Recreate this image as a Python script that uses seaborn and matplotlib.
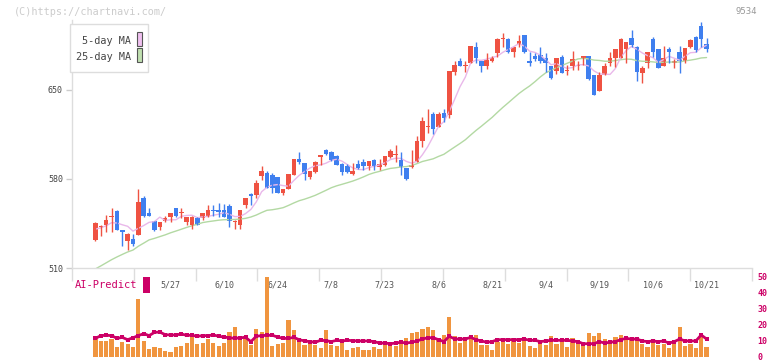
import numpy as np
import pandas as pd
import matplotlib
matplotlib.use("Agg")
import matplotlib.pyplot as plt
from matplotlib.patches import Rectangle
import seaborn as sns

# --- data ---
date_labels = ["5/27", "6/10", "6/24", "7/8", "7/23", "8/6", "8/21", "9/4", "9/19", "10/6", "10/21"]
date_idx = [14, 24, 34, 44, 54, 64, 74, 84, 94, 104, 114]

open_ = [532, 542, 544, 550, 555, 540, 531, 533, 536, 565, 553.5, 547, 542, 547, 550, 557.5, 553, 546.5, 544, 549.5,
         549, 551, 555.5, 555.5, 555.5, 559, 546, 544, 559.5, 568, 567.5, 582.5, 584.5, 583, 581.5, 569, 572, 583.5, 595.5, 592.5,
         581.5, 585.5, 597.5, 603, 601.5, 598, 592, 590, 584, 592, 593, 590, 595, 589.5, 591, 597.5, 599, 595, 588.5, 589.5,
         593.5, 609.5, 621, 631, 621, 632, 630, 664.5, 672.5, 668.5, 671.5, 683.5, 672.5, 669, 672.5, 679, 690, 690, 679.5, 686,
         693, 673, 677, 677.5, 675.5, 669, 665, 676, 665, 668.5, 668.5, 675, 676.5, 662, 649.5, 662, 671, 675.5, 675.5, 682,
         690.5, 684, 663.5, 671.5, 690, 682, 669, 682, 671.5, 680, 672.5, 683.5, 691.5, 700, 686.5]
high = [546, 543.5, 552, 557, 555.5, 540, 537.5, 537, 572, 567, 557, 547, 546.5, 551, 553.5, 557.5, 557, 550, 551, 550,
        553.5, 559.5, 559.5, 561, 560, 560, 548, 555.5, 565, 569, 579, 590, 586.5, 584.5, 581.5, 572.5, 584, 596, 601, 592.5,
        586.5, 594.5, 599, 603.5, 602, 598.5, 592.5, 592, 592.5, 595, 595.5, 594, 595.5, 595.5, 598, 603.5, 606.5, 601.5, 588.5, 602.5,
        614, 629, 635, 632.5, 632.5, 635, 665, 672.5, 675.5, 673, 684.5, 688, 672.5, 679, 676.5, 690.5, 694.5, 690.5, 684, 693,
        693, 680, 679, 684, 679, 669, 675.5, 677.5, 669.5, 680.5, 673, 676.5, 676.5, 662, 664.5, 671, 679.5, 682, 690.5, 688,
        697, 684.5, 668.5, 679.5, 692, 682.5, 684.5, 684, 674, 684.5, 683, 690, 692.5, 703.5, 690.5]
low = [531, 535, 538.5, 538.5, 539.5, 527, 524, 527, 536, 550, 550.5, 539, 540, 546, 546.5, 550, 549.5, 544, 540.5, 543.5,
       548, 550, 551, 550, 550, 542.5, 540.5, 541, 557, 559.5, 565, 579, 573, 569, 569, 567.5, 572, 583, 592, 579,
       580, 585, 591, 599, 594, 591, 583, 585, 583, 587.5, 587, 587, 587, 587, 590, 596.5, 593.5, 583, 579.5, 588.5,
       593.5, 605.5, 616.5, 615.5, 621, 625, 628, 662, 669, 664.5, 671, 671.5, 664.5, 666.5, 672, 676, 684, 679, 676, 684,
       679, 668.5, 673, 671, 664.5, 658.5, 662.5, 663, 662, 665.5, 666, 669.5, 658, 646, 649.5, 662, 668.5, 668, 675, 671,
       684, 657, 655.5, 667, 676, 667, 669, 671, 667, 663.5, 671, 683, 680, 684, 680]
close = [545, 543, 548, 551, 540, 538, 537, 529, 562, 551, 550.5, 540, 546.5, 549, 553.5, 550.5, 553.5, 550, 550, 544,
         553.5, 555.5, 554.5, 554, 550, 547, 546.5, 555.5, 565, 566.5, 576.5, 586.5, 573, 573, 569, 572.5, 584, 595.5, 593, 584,
         586.5, 593, 599, 599.5, 595, 591, 585.5, 585.5, 586.5, 589, 590, 594, 590, 592, 598, 602, 599.5, 589.5, 580, 591,
         609.5, 625.5, 621.5, 619.5, 631, 628, 665, 669.5, 669, 669, 684.5, 675.5, 668.5, 673.5, 675.5, 690, 690.5, 679.5, 684, 688.5,
         679.5, 671, 674.5, 673, 671, 659.5, 675.5, 663.5, 665.5, 674, 670, 676.5, 658.5, 646, 662, 669, 675.5, 682, 690, 688,
         685.5, 664.5, 667.5, 679.5, 680, 667, 675.5, 680, 672, 672.5, 683, 689, 681.5, 690, 682]
# closes of the weeks before the window, only used to seed the moving averages
warmup_close = [485, 487, 490, 486, 488, 489, 491, 487, 490, 487, 510, 512,
                515, 513, 516, 518, 514, 517, 515, 520, 538, 540, 539, 541]

volume = [12.3, 9.9, 9.9, 11.1, 6.2, 9.0, 7.8, 6.2, 35.8, 9.9, 4.9, 6.2, 5.3, 3.7, 2.9, 6.2, 7.0, 8.6, 13.6, 8.2,
          8.6, 11.1, 8.6, 7.0, 8.6, 15.6, 18.5, 13.2, 13.2, 7.4, 17.3, 15.6, 49.4, 7.0, 8.2, 8.6, 23.0, 16.9, 10.7, 7.4,
          8.2, 7.4, 5.8, 16.9, 7.4, 7.0, 9.5, 4.5, 5.3, 6.2, 4.5, 4.5, 6.2, 4.9, 8.2, 7.0, 7.0, 9.0, 11.9, 14.8,
          15.6, 17.3, 18.5, 16.9, 11.5, 13.6, 24.7, 13.2, 8.6, 9.9, 11.5, 13.6, 7.4, 7.4, 4.1, 9.5, 10.3, 8.2, 11.5, 8.6,
          11.5, 6.6, 5.3, 8.2, 7.4, 12.8, 8.2, 9.0, 6.2, 11.5, 9.5, 7.8, 14.8, 13.2, 14.8, 11.1, 8.2, 12.3, 13.6, 12.8,
          11.5, 11.5, 8.2, 6.2, 9.5, 7.4, 8.2, 5.3, 8.6, 18.5, 7.0, 7.8, 5.3, 14.0, 6.2]
ai_predict = [11.5, 13.2, 13.4, 13.2, 11.5, 12.1, 10.7, 11.9, 13.2, 14.4, 13.2, 15.2, 15.4, 13.8, 13.6, 13.6, 14.2, 13.4, 13.4, 12.8,
              13.2, 13.2, 13.6, 12.8, 12.3, 11.9, 11.5, 11.9, 12.1, 9.5, 12.8, 13.2, 13.4, 13.4, 12.3, 11.5, 11.5, 12.1, 10.7, 9.9,
              9.5, 9.1, 10.3, 10.1, 9.5, 10.3, 9.9, 10.3, 10.1, 9.9, 9.9, 9.9, 9.5, 8.6, 8.6, 8.2, 8.6, 9.1, 8.6, 9.1,
              9.9, 11.1, 11.9, 11.9, 10.7, 9.5, 12.8, 11.1, 11.1, 11.1, 12.1, 10.7, 9.9, 9.1, 9.5, 10.7, 10.7, 10.7, 10.7, 10.7,
              11.1, 10.3, 10.3, 9.5, 9.9, 10.3, 10.3, 10.3, 10.3, 9.9, 9.5, 8.2, 8.2, 8.2, 9.5, 8.6, 9.1, 9.5, 10.7, 11.5,
              11.1, 11.1, 9.9, 9.5, 9.9, 9.5, 9.9, 8.6, 9.5, 11.1, 9.9, 9.9, 9.9, 13.6, 11.1]

RED = "#ef5242"
BLUE = "#3f7fef"
MAGENTA = "#cc0066"
ORANGE = "#f0953f"
MONO = "DejaVu Sans Mono"

sns.set_style("white")
plt.rcParams["font.family"] = [MONO]

W, H = 772, 361


def box(l, t, r, b):
    return [l / W, 1 - b / H, (r - l) / W, (b - t) / H]


n = len(close)
x = np.arange(n)
o = np.array(open_)
c = np.array(close)

all_close = pd.Series(warmup_close + close)
ma5 = all_close.rolling(5).mean().iloc[len(warmup_close):].to_numpy()
ma25 = all_close.rolling(25).mean().iloc[len(warmup_close):].to_numpy()

xlim = (-4.38, 122.48)

fig = plt.figure(figsize=(W / 100, H / 100), dpi=100)
ax = fig.add_axes(box(72, 20, 752, 268))
axv = fig.add_axes(box(72, 276, 752, 357))

# moving averages
sns.lineplot(x=x, y=ma25, ax=ax, color="#b3d9a3", lw=1)
sns.lineplot(x=x, y=ma5, ax=ax, color="#e9b8ea", lw=1)

# candles
cols = np.where(c >= o, RED, BLUE)
ax.vlines(x, low, high, colors=cols, lw=1)
ax.bar(x, np.maximum(np.abs(c - o), 0.9), bottom=np.minimum(o, c), width=0.85,
       color=cols, linewidth=0)

ax.set_xlim(xlim)
ax.set_ylim(510, 705)
ax.set_yticks([510, 580, 650])
ax.set_xticks(date_idx)
ax.set_xticklabels(date_labels)
ax.set_xticks(np.linspace(xlim[0], xlim[1], 12), minor=True)
ax.tick_params(axis="y", length=4.5, width=1, color="#cccccc", labelcolor="#444444",
               labelsize=6, pad=2, left=True)
ax.tick_params(axis="x", which="major", length=0, labelcolor="#555555", labelsize=6, pad=9,
               bottom=True)
ax.tick_params(axis="x", which="minor", length=9, width=1, color="#dddddd", direction="out",
               bottom=True)
for s in ["top", "right"]:
    ax.spines[s].set_visible(False)
for s in ["left", "bottom"]:
    ax.spines[s].set_color("#dddddd")
    ax.spines[s].set_linewidth(1)
ax.set_xlabel("")
ax.set_ylabel("")

# volume + AI-Predict
axv.bar(x, volume, width=0.78, color=ORANGE, linewidth=0)
sns.lineplot(x=x, y=ai_predict, ax=axv, color=MAGENTA, lw=2, marker="s",
             markersize=2.5, markeredgewidth=0)
axv.set_xlim(xlim)
axv.set_ylim(0, 50)
axv.set_yticks([0, 10, 20, 30, 40, 50])
axv.yaxis.tick_right()
axv.tick_params(axis="y", length=0, labelcolor=MAGENTA, labelsize=6, pad=4)
axv.set_xticks([])
for s in axv.spines.values():
    s.set_visible(False)
axv.patch.set_alpha(0)
for lab in axv.get_yticklabels():
    lab.set_fontweight("bold")

# texts and legend
fig.text(14 / W, 1 - 12 / H, "(C)https://chartnavi.com/", color="#cccccc", fontsize=7.3, va="center")
fig.text(757 / W, 1 - 12 / H, "9534", color="#999999", fontsize=6.5, va="center", ha="right")

fig.add_artist(Rectangle((70 / W, 1 - 72 / H), 78 / W, 48 / H, transform=fig.transFigure,
                         facecolor="white", edgecolor="#dddddd", lw=1, zorder=5))
fig.text(131 / W, 1 - 41 / H, "5-day MA", color="#444444", fontsize=7.3, va="center", ha="right", zorder=6)
fig.text(131 / W, 1 - 57 / H, "25-day MA", color="#444444", fontsize=7.3, va="center", ha="right", zorder=6)
fig.add_artist(Rectangle((137 / W, 1 - 46 / H), 5 / W, 14 / H, transform=fig.transFigure,
                         facecolor="#f0c0f0", edgecolor="#555555", lw=0.8, zorder=6))
fig.add_artist(Rectangle((137 / W, 1 - 62 / H), 5 / W, 14 / H, transform=fig.transFigure,
                         facecolor="#c0e0b0", edgecolor="#555555", lw=0.8, zorder=6))

fig.text(75 / W, 1 - 285 / H, "AI-Predict", color=MAGENTA, fontsize=7.5, va="center")
fig.add_artist(Rectangle((143 / W, 1 - 293 / H), 7 / W, 16 / H, transform=fig.transFigure,
                         facecolor=MAGENTA, edgecolor="none", zorder=6))

fig.savefig("out.png", dpi=100)
